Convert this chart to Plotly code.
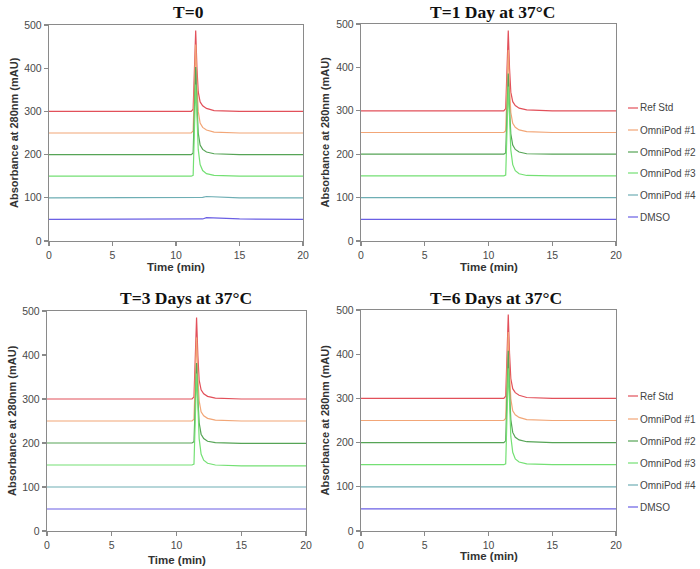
import plotly.graph_objects as go

# ---------------- data ----------------
SERIES = ["Ref Std", "OmniPod #1", "OmniPod #2", "OmniPod #3", "OmniPod #4", "DMSO"]
COLORS = ["#e2505a", "#f2a677", "#56a456", "#74e074", "#6eaeb4", "#6a5fe4"]
TITLES = ["T=0", "T=1 Day at 37°C", "T=3 Days at 37°C", "T=6 Days at 37°C"]

TIME = [0, 4, 11.2, 11.35, 11.45, 11.55, 11.65, 11.75, 11.9, 12.1, 12.4, 13.0, 15, 20]

T0 = [
    [300, 300, 300, 305, 400, 487, 400, 345, 322, 313, 307, 302, 300, 300],
    [250, 250, 250, 255, 360, 455, 362, 300, 273, 263, 257, 252, 250, 250],
    [200, 200, 200, 204, 300, 403, 315, 250, 222, 212, 206, 202, 200, 200],
    [150, 150, 150, 152, 250, 362, 290, 212, 177, 163, 156, 152, 150, 150],
    [100, 100, 100, 100, 100, 100, 100, 100, 100, 101, 103, 102, 100, 100],
    [50, 50, 50, 50, 50, 50, 50, 50, 50, 51, 54, 53, 51, 50],
]
T1 = [
    [300, 300, 300, 305, 400, 485, 398, 343, 321, 312, 306, 302, 300, 300],
    [250, 250, 250, 254, 350, 440, 352, 296, 271, 262, 256, 252, 250, 250],
    [200, 200, 200, 203, 295, 386, 305, 247, 221, 211, 205, 201, 200, 200],
    [150, 150, 150, 152, 250, 356, 285, 210, 176, 162, 155, 151, 150, 150],
    [100, 100, 100, 100, 100, 100, 100, 100, 100, 100, 101, 101, 100, 100],
    [50, 50, 50, 50, 50, 50, 50, 50, 50, 50, 51, 51, 50, 50],
]
T3 = [
    [300, 300, 300, 305, 400, 485, 398, 343, 321, 312, 306, 302, 300, 300],
    [250, 250, 250, 254, 350, 440, 352, 296, 271, 262, 256, 252, 250, 250],
    [200, 200, 200, 203, 293, 382, 302, 246, 220, 210, 204, 201, 199, 199],
    [150, 150, 150, 152, 250, 358, 286, 210, 175, 161, 154, 150, 148, 148],
    [100, 100, 100, 100, 100, 100, 100, 100, 100, 100, 101, 100, 100, 100],
    [50, 50, 50, 50, 50, 50, 50, 50, 50, 50, 51, 51, 50, 50],
]
T6 = [
    [300, 300, 300, 305, 402, 490, 402, 345, 322, 313, 307, 302, 300, 300],
    [250, 250, 250, 255, 355, 450, 358, 299, 272, 263, 257, 252, 250, 250],
    [200, 200, 200, 204, 305, 408, 318, 252, 223, 212, 206, 202, 200, 200],
    [150, 150, 150, 152, 255, 368, 292, 214, 178, 163, 156, 152, 150, 150],
    [100, 100, 100, 100, 100, 100, 100, 100, 100, 100, 101, 100, 100, 100],
    [50, 50, 50, 50, 50, 50, 50, 50, 50, 50, 51, 51, 50, 50],
]
PANELS = [T0, T1, T3, T6]

X_TICKS = [0, 5, 10, 15, 20]
Y_TICKS = [0, 100, 200, 300, 400, 500]

# ---------------- layout geometry (window pixels) ----------------
W, H = 700, 569
# (x0, x1, ytop, ybottom) of each plot area
BOXES = [(49, 303, 25, 241), (361, 616, 24, 241), (47, 306, 311, 531), (361, 616, 310, 531)]
TITLE_POS = [(188, 12), (492, 12), (186, 298), (496, 298)]
XTITLE_Y = [267, 267, 560, 556]
YTITLE_X = [14, 324, 12, 324]

def px(x):
    return x / W

def py(y):
    return 1 - y / H

fig = go.Figure()
layout = dict(
    width=W, height=H,
    margin=dict(l=0, r=0, t=0, b=0, autoexpand=False),
    paper_bgcolor="white", plot_bgcolor="white",
    showlegend=False,
    font=dict(family="Liberation Sans, Arial, sans-serif", color="#444", size=10),
)
annotations = []
shapes = []

for i, panel in enumerate(PANELS):
    n = "" if i == 0 else str(i + 1)
    xa, ya = "x" + n, "y" + n
    x0, x1, yt, yb = BOXES[i]
    for s, vals in enumerate(panel):
        fig.add_trace(go.Scatter(
            x=TIME, y=vals, mode="lines", name=SERIES[s],
            line=dict(color=COLORS[s], width=1.2),
            xaxis=xa, yaxis=ya, hoverinfo="skip",
        ))
    axis_common = dict(
        showline=True, linecolor="#8a8a8a", linewidth=1.2, mirror=True,
        ticks="outside", ticklen=4, tickcolor="#8a8a8a", tickwidth=1.2,
        showgrid=False, zeroline=False, automargin=False,
        tickfont=dict(size=10.5, color="#4a4a4a"),
    )
    layout["xaxis" + n] = dict(
        axis_common, domain=[px(x0), px(x1)], range=[0, 20],
        tickvals=X_TICKS, anchor=ya,
    )
    layout["yaxis" + n] = dict(
        axis_common, domain=[py(yb), py(yt)], range=[0, 500],
        tickvals=Y_TICKS, anchor=xa,
    )
    tx, ty = TITLE_POS[i]
    annotations.append(dict(
        text="<b>" + TITLES[i] + "</b>", x=px(tx), y=py(ty), xref="paper", yref="paper",
        showarrow=False, xanchor="center", yanchor="middle",
        font=dict(family="Liberation Serif, Times New Roman, serif", size=17.5, color="#111"),
    ))
    annotations.append(dict(
        text="<b>Time (min)</b>", x=px((x0 + x1) / 2), y=py(XTITLE_Y[i]),
        xref="paper", yref="paper", showarrow=False, xanchor="center", yanchor="middle",
        font=dict(size=11.5, color="#333"),
    ))
    annotations.append(dict(
        text="<b>Absorbance at 280nm (mAU)</b>", x=px(YTITLE_X[i]), y=py((yt + yb) / 2),
        xref="paper", yref="paper", showarrow=False, xanchor="center", yanchor="middle",
        textangle=-90, font=dict(size=11, color="#333"),
    ))

# legends for the right-hand panels
LEGEND_Y = [[108, 130, 152, 173, 195, 217], [396, 419, 441, 463, 485, 507]]
for ys in LEGEND_Y:
    for s, yy in enumerate(ys):
        shapes.append(dict(
            type="line", xref="paper", yref="paper",
            x0=px(628), x1=px(638), y0=py(yy), y1=py(yy),
            line=dict(color=COLORS[s], width=1.2),
        ))
        annotations.append(dict(
            text=SERIES[s], x=px(638), y=py(yy), xref="paper", yref="paper",
            showarrow=False, xanchor="left", yanchor="middle",
            font=dict(size=10, color="#444"),
        ))

layout["annotations"] = annotations
layout["shapes"] = shapes
fig.update_layout(**layout)
fig.write_html(
    "out.html",
    config={"displayModeBar": False, "staticPlot": True},
    post_script="document.body.style.margin='0';document.body.style.overflow='hidden';",
)
